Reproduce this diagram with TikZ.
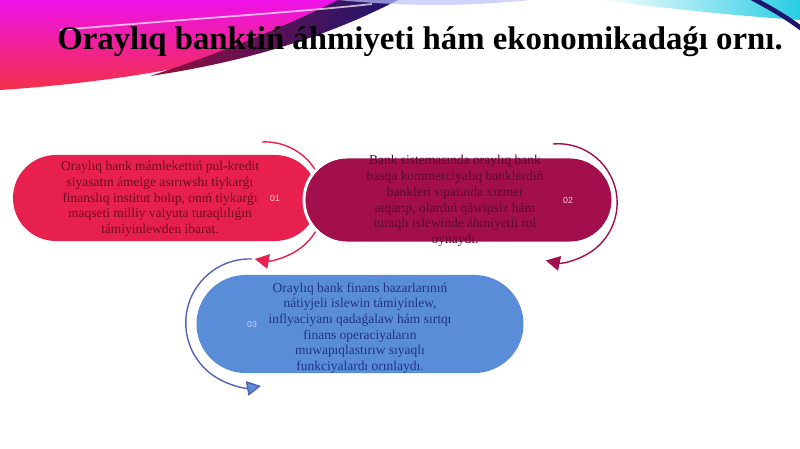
\documentclass[tikz,border=0pt]{standalone}
\usepackage{fontspec}
\setmainfont{Liberation Serif}
\newfontfamily\numfont{Liberation Sans}
\usetikzlibrary{shapes.misc,arrows.meta}

\definecolor{swmagenta}{RGB}{238,18,232}
\definecolor{swred}{RGB}{242,48,72}
\definecolor{swwine}{RGB}{150,14,60}
\definecolor{swnavy}{RGB}{28,22,110}
\definecolor{swcyan}{RGB}{40,205,228}
\definecolor{crimsonbox}{RGB}{232,32,78}
\definecolor{winebox}{RGB}{163,14,76}
\definecolor{bluebox}{RGB}{90,141,216}
\definecolor{txtred}{RGB}{110,10,36}
\definecolor{txtwine}{RGB}{88,10,48}
\definecolor{txtblue}{RGB}{30,52,135}
\definecolor{arcblue}{RGB}{84,98,186}

\tikzset{
  pill/.style={rounded rectangle, inner sep=0pt},
  boxtext/.style={align=center, font=\fontsize{11.5}{13.4}\selectfont},
  numtext/.style={font=\numfont\fontsize{7.5}{8}\selectfont},
  turn/.style={line width=1.2pt, -{Triangle[length=4.2mm,width=4.4mm]}}
}

\begin{document}
\begin{tikzpicture}[x=0.03cm, y=-0.03cm]
\useasboundingbox (0,0) rectangle (800,449);
\fill[white] (0,0) rectangle (800,449);

% top left swoosh
\shade[top color=swmagenta, bottom color=swred] (0,0) -- (396,0) .. controls (320,40) and (180,78) .. (0,90) -- cycle;
\shade[left color=swwine, right color=swnavy] (150,76) .. controls (260,60) and (340,30) .. (398,0) -- (338,0) .. controls (290,24) and (230,50) .. (150,76) -- cycle;
\fill[blue!25, opacity=.7] (338,0) .. controls (420,8) and (480,5) .. (530,0) -- cycle;
\draw[white, line width=1.5pt, opacity=.7] (60,30) .. controls (200,18) and (300,12) .. (372,4);

% top right swoosh
\shade[left color=white, right color=swcyan] (600,0) .. controls (680,10) and (740,16) .. (800,20) -- (800,0) -- cycle;
\draw[swnavy, line width=4pt] (752,-2) .. controls (770,8) and (785,16) .. (802,29);

\node[font=\bfseries\fontsize{28}{32}\selectfont, anchor=base] (title) at (420,50) {Oraylıq banktiń áhmiyeti hám ekonomikadaǵı ornı.};

% first block
\node[pill, fill=crimsonbox, minimum width=9.15cm, minimum height=2.58cm] (box1) at (165.5,198) {};
\coordinate (s1) at (262,142);
\draw[turn, crimsonbox] (s1) arc[start angle=-93, end angle=100, radius=59];
\node[boxtext, text=txtred] (t1) at (160,199) {Oraylıq bank mámlekettiń pul-kredit\\siyasatın ámelge asırıwshı tiykarǵı\\finanslıq institut bolıp, onıń tiykarǵı\\maqseti milliy valyuta turaqlılıǵın\\támiyinlewden ibarat.};
\node[numtext, text=pink!60!white] (n1) at (275,198) {01};

% second block
\node[pill, fill=winebox, draw=white, line width=2.5pt, minimum width=9.27cm, minimum height=2.58cm] (box2) at (458.5,200) {};
\coordinate (s2) at (553,144);
\draw[turn, winebox] (s2) arc[start angle=-95, end angle=102, radius=59];
\node[boxtext, text=txtwine] (t2) at (455,201) {Bank sistemasında oraylıq bank\\basqa kommerciyalıq banklerdiń\\bankleri sıpatında xızmet\\atqarıp, olardıń qáwipsiz hám\\turaqlı islewinde áhmiyetli rol\\oynaydı.};
\node[numtext, text=pink!70!white] (n2) at (568,200) {02};

% third block
\node[pill, fill=bluebox, minimum width=9.81cm, minimum height=2.94cm] (box3) at (360,324) {};
\coordinate (s3) at (252,259);
\draw[turn, arcblue, -{Triangle[length=4.2mm,width=4.4mm, fill=bluebox]}] (s3) arc[start angle=-88, end angle=-280, radius=64];
\node[boxtext, text=txtblue] (t3) at (360,328) {Oraylıq bank finans bazarlarınıń\\nátiyjeli islewin támiyinlew,\\inflyaciyanı qadaǵalaw hám sırtqı\\finans operaciyaların\\muwapıqlastırıw sıyaqlı\\funkciyalardı orınlaydı.};
\node[numtext, text=blue!20!white] (n3) at (252,324) {03};

\end{tikzpicture}
\end{document}
